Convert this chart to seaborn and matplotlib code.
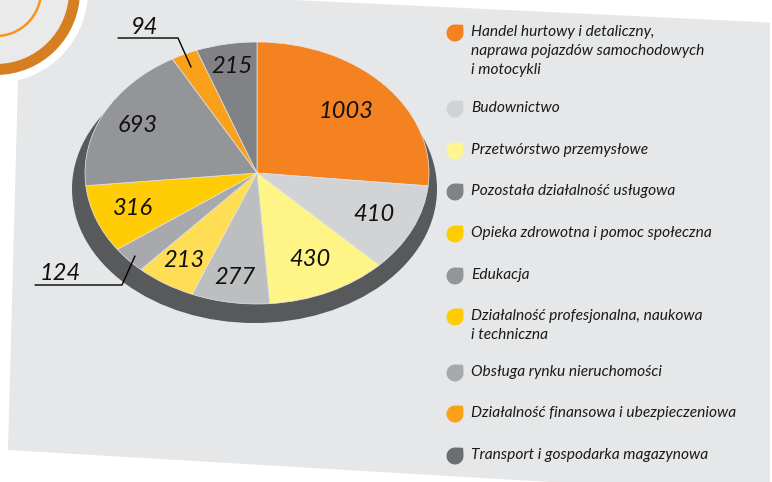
import numpy as np
import pandas as pd
import matplotlib
matplotlib.use("Agg")
import matplotlib.pyplot as plt
import matplotlib.patches as mpatches
from matplotlib.path import Path
import seaborn as sns

# pie slices, clockwise from 12 o'clock
pie_values = [1003, 410, 430, 277, 213, 124, 316, 693, 94, 215]
pie_colors = ["#f58220", "#d1d3d4", "#fff587", "#bcbec0", "#ffdd55",
              "#a7a9ac", "#ffcc05", "#939598", "#f9a11b", "#808285"]

# legend entries (top to bottom)
legend_labels = [
    "Handel hurtowy i detaliczny,\nnaprawa pojazdów samochodowych\ni motocykli",
    "Budownictwo",
    "Przetwórstwo przemysłowe",
    "Pozostała działalność usługowa",
    "Opieka zdrowotna i pomoc społeczna",
    "Edukacja",
    "Działalność profesjonalna, naukowa\ni techniczna",
    "Obsługa rynku nieruchomości",
    "Działalność finansowa i ubezpieczeniowa",
    "Transport i gospodarka magazynowa",
]
legend_colors = ["#f58220", "#d1d3d4", "#fff68f", "#808285", "#ffcc00",
                 "#939598", "#ffcb05", "#a7a9ac", "#f9a11b", "#6d6e71"]

sns.set_style("white")
plt.rcParams['font.family'] = ['Lato', 'DejaVu Sans']

W, H = 772, 482
fig = plt.figure(figsize=(W / 100, H / 100), dpi=100)

# background layer in pixel coords
ax_bg = fig.add_axes([0, 0, 1, 1])
ax_bg.set_xlim(0, W)
ax_bg.set_ylim(H, 0)
ax_bg.axis('off')
ax_bg.add_patch(mpatches.Polygon([(20.5, -13), (770, 22.5), (770, 495), (8, 450)],
                                 closed=True, fc="#e6e7e8", ec="none"))
# corner decoration
ax_bg.add_patch(mpatches.Circle((-4, -9), 92, fc="white", ec="none"))
ax_bg.add_patch(mpatches.Circle((-4, -9), 84, fc="#d67e22", ec="none"))
ax_bg.add_patch(mpatches.Circle((-4, -9), 73, fc="#eaeaea", ec="none"))
ax_bg.add_patch(mpatches.Circle((-4, -9), 45, fc="none", ec="#f7941d", lw=1.8))
# pie depth
ax_bg.add_patch(mpatches.Ellipse((254.5, 189), 365, 268, fc="#58595b", ec="none"))

# pie, stretched into an ellipse by its own axes
left, right, top, bottom = 85, 429, 42, 304
ax_pie = fig.add_axes([left / W, 1 - bottom / H, (right - left) / W, (bottom - top) / H])
ax_pie.set_zorder(1)
wedges, _ = ax_pie.pie(pie_values, colors=pie_colors, startangle=90, counterclock=False,
                       radius=1, wedgeprops=dict(linewidth=0.5, edgecolor="#e6e7e8"))
ax_pie.set_aspect('auto')
ax_pie.set_xlim(-1, 1)
ax_pie.set_ylim(-1, 1)
ax_pie.axis('off')
ax_pie.patch.set_alpha(0)

label_r = [0.70, 0.75, 0.73, 0.81, 0.79, None, 0.77, 0.78, None, 0.83]
for w, v, r in zip(wedges, pie_values, label_r):
    if r is None:
        continue
    th = np.deg2rad((w.theta1 + w.theta2) / 2)
    ax_pie.text(r * np.cos(th), r * np.sin(th), str(v), ha='center', va='center',
                fontsize=17, style='italic', color="#111111")

# foreground: outside labels, leader lines, legend
ax = fig.add_axes([0, 0, 1, 1])
ax.set_zorder(2)
ax.patch.set_alpha(0)
ax.set_xlim(0, W)
ax.set_ylim(H, 0)
ax.axis('off')

ax.plot([118, 178, 191], [38, 38, 67], color="black", lw=1)
ax.text(145, 27, str(pie_values[8]), ha='center', va='center', fontsize=17,
        style='italic', color="#111111")
ax.plot([35, 122, 135], [285, 285, 256], color="black", lw=1)
ax.text(60, 273, str(pie_values[5]), ha='center', va='center', fontsize=17,
        style='italic', color="#111111")

# drop-shaped legend marker
t = np.linspace(np.pi / 2, 2 * np.pi, 40)
verts = list(zip(np.cos(t), np.sin(t)))
codes = [Path.MOVETO] + [Path.LINETO] * (len(verts) - 1)
verts += [(1, 0.55), (0.95, 0.95), (0.55, 1), (0, 1), (0, 1)]
codes += [Path.CURVE3, Path.CURVE3, Path.CURVE3, Path.CURVE3, Path.CLOSEPOLY]
drop = Path(verts, codes)

legend_y = [33, 109, 151, 192, 234, 276, 317, 373, 414, 456]
leg_df = pd.DataFrame({"x": [455] * len(legend_labels), "y": legend_y, "label": legend_labels})
sns.scatterplot(data=leg_df, x="x", y="y", hue="label",
                palette=dict(zip(legend_labels, legend_colors)),
                marker=drop, s=150, linewidth=0, legend=False, ax=ax)
ax.set_xlim(0, W)
ax.set_ylim(H, 0)
ax.axis('off')
for lab, y in zip(legend_labels, legend_y):
    ax.text(471, y - 8, lab, ha='left', va='top', fontsize=11.2, style='italic',
            color="#1a1a1a", linespacing=1.45)

fig.savefig("out.png", dpi=100)
